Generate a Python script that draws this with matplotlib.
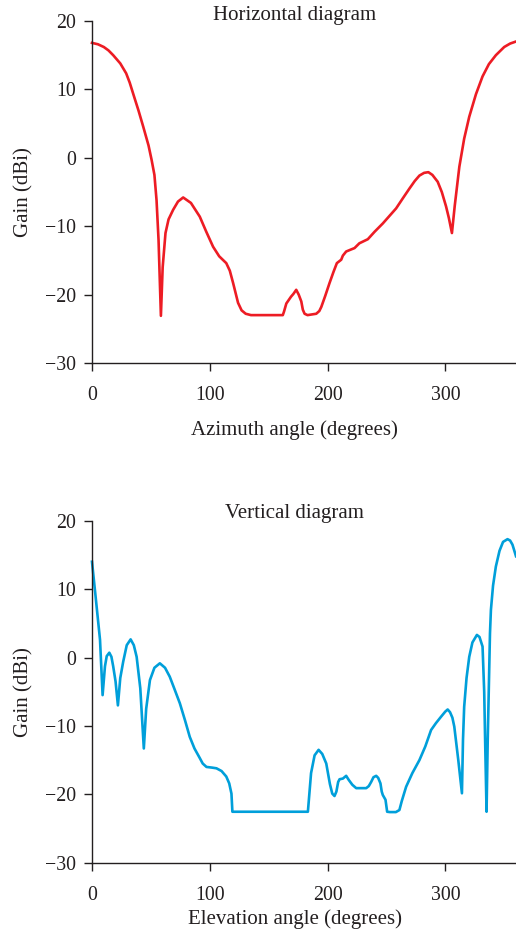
import matplotlib
matplotlib.use("Agg")
import matplotlib.pyplot as plt

# horizontal (azimuth) diagram
az_angle = [0, 5, 10, 14, 18, 24, 29, 32, 36, 39.5, 43.5, 48, 50.6, 53, 54.8, 56.5, 58.5,
            60, 62.4, 65, 68.9, 73, 77.4, 84, 91.5, 97, 102.8, 108, 114, 117, 119.8, 124,
            127, 130.5, 135, 162, 163, 165, 169, 171, 173.4, 175.5, 177.7, 179, 180.5,
            183, 190.4, 193, 194.7, 198, 201.7, 205, 207.9, 211.6, 213, 215.8, 220,
            222.9, 227, 234.2, 240, 246.9, 258.2, 264, 269.5, 274, 278, 282, 285.6, 289,
            293.5, 297, 300.6, 303, 305.6, 308, 311.9, 316, 320.3, 326, 331.6, 337,
            342.9, 350, 355, 360]
az_gain = [16.8, 16.6, 16.2, 15.7, 15.0, 13.8, 12.35, 11.0, 8.8, 6.9, 4.55, 1.8, -0.3,
           -2.5, -6.2, -12, -23.1, -16, -11, -9, -7.6, -6.4, -5.8, -6.6, -8.6, -10.8,
           -13, -14.4, -15.4, -16.5, -18.3, -21.2, -22.3, -22.8, -23.0, -23.0, -22.5,
           -21.3, -20.3, -19.9, -19.3, -20.0, -21.0, -22.2, -22.8, -23.0, -22.8, -22.4,
           -21.8, -20.2, -18.3, -16.7, -15.4, -14.9, -14.3, -13.7, -13.4, -13.2, -12.5,
           -11.9, -10.8, -9.6, -7.4, -5.9, -4.5, -3.4, -2.6, -2.2, -2.1, -2.5, -3.5,
           -5.0, -7.1, -8.8, -11.0, -7.0, -1.3, 2.8, 6.0, 9.3, 11.9, 13.7, 15.0, 16.2,
           16.7, 17.0]

# vertical (elevation) diagram
el_angle = [0, 3, 6.8, 9, 11, 12.5, 14.7, 16.5, 18, 20, 22, 24, 26.5, 29.5, 32.8, 35.5,
            37.9, 41, 44, 46, 49.2, 53, 57.6, 62, 66, 70, 74.6, 79, 83, 87, 91.5, 94,
            97.2, 102, 105.7, 110, 114, 116.5, 118.4, 119.2, 183.3, 186, 189, 192.4,
            195.5, 198.9, 202, 204, 205.9, 207.5, 209, 210.2, 213, 215.8, 218, 221,
            224.3, 232.8, 235, 237, 239, 241.3, 243, 244.9, 246, 246.9, 249.2, 250.6,
            253, 258, 261, 263, 266.7, 272, 278, 283, 287.9, 292, 296.4, 300, 302, 304,
            306, 307.6, 311, 314.1, 315, 316, 318, 320.3, 323, 326.8, 329, 331.6, 333,
            334, 335, 336, 337.9, 338.7, 340.5, 342.9, 346, 349, 352.8, 355, 357,
            359.3, 360]
el_gain = [14.0, 9.0, 2.6, -5.5, -1.3, 0.2, 0.7, 0.1, -1.3, -3.5, -7.0, -3.0, -0.6, 1.8,
           2.65, 1.8, 0.1, -4.5, -13.3, -7.5, -3.3, -1.5, -0.85, -1.5, -2.8, -4.6, -6.7,
           -9.2, -11.6, -13.3, -14.7, -15.5, -16.0, -16.1, -16.2, -16.6, -17.4, -18.4,
           -19.9, -22.55, -22.55, -16.9, -14.3, -13.5, -14.1, -15.5, -18.5, -19.9,
           -20.25, -19.6, -18.2, -17.8, -17.7, -17.3, -17.9, -18.6, -19.1, -19.1, -18.8,
           -18.2, -17.5, -17.3, -17.6, -18.4, -19.6, -20.1, -20.8, -22.55, -22.6, -22.6,
           -22.3, -21.0, -18.9, -16.9, -15.0, -13.0, -10.6, -9.6, -8.65, -7.9, -7.6,
           -8.0, -8.8, -10.1, -15, -19.85, -12, -7.2, -3.0, 0.1, 2.2, 3.3, 3.0, 1.6, -5,
           -14, -22.55, -12, 3.5, 6.95, 10.5, 13.3, 15.6, 16.9, 17.3, 17.1, 16.5, 15.2,
           14.8]

text_col = "#231f20"
plt.rcParams["font.family"] = ["Liberation Serif", "DejaVu Serif"]
plt.rcParams["font.size"] = 14
plt.rcParams["text.color"] = text_col
plt.rcParams["axes.labelcolor"] = text_col

fig = plt.figure(figsize=(5.16, 9.41), dpi=100)
ax1 = fig.add_axes([92 / 516, 1 - 363 / 941, 424 / 516, 342 / 941])
ax2 = fig.add_axes([92 / 516, 1 - 862.7 / 941, 424 / 516, 342 / 941])

panels = [
    (ax1, az_angle, az_gain, "#ed1c24", "Horizontal diagram", "Azimuth angle (degrees)", -0.166, 1.0175),
    (ax2, el_angle, el_gain, "#009fda", "Vertical diagram", "Elevation angle (degrees)", -0.137, 1.0215),
]

for ax, x, y, col, title, xlab, xlab_y, title_y in panels:
    ax.plot(x, y, color=col, lw=1.9, solid_joinstyle="round", clip_on=False)
    ax.set_xlim(0, 360)
    ax.set_ylim(-30, 20)
    ax.set_xticks([0, 100, 200, 300])
    ax.set_yticks([-30, -20, -10, 0, 10, 20])
    for s in ["top", "right"]:
        ax.spines[s].set_visible(False)
    for s in ["left", "bottom"]:
        ax.spines[s].set_color(text_col)
        ax.spines[s].set_linewidth(1.0)
    ax.tick_params(direction="out", length=5.5, width=1.0, color=text_col,
                   labelcolor=text_col, labelsize=14.3)
    ax.tick_params(axis="x", pad=11)
    ax.tick_params(axis="y", pad=6)
    ax.set_xlabel(xlab, fontsize=15)
    ax.set_ylabel("Gain (dBi)", fontsize=15)
    ax.xaxis.set_label_coords(0.478, xlab_y)
    ax.yaxis.set_label_coords(-0.139, 0.5)
    ax.text(0.478, title_y, title, transform=ax.transAxes, ha="center", va="center",
            fontsize=15)

fig.savefig("out.png", dpi=100)
